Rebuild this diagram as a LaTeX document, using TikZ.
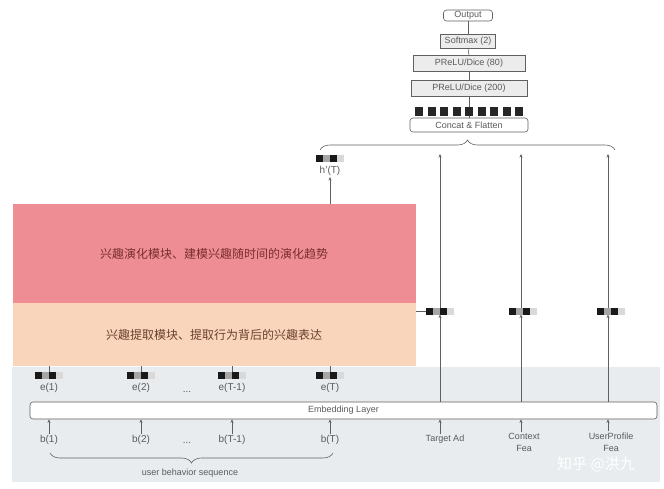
\documentclass[tikz,border=0pt]{standalone}
\usepackage{fontspec}
\setmainfont{Liberation Sans}
\newfontfamily\cjk{Noto Sans CJK SC}
\usetikzlibrary{arrows.meta, positioning, decorations.pathreplacing}
\definecolor{evoPink}{HTML}{EE8D94}
\definecolor{extPeach}{HTML}{F9D5BB}
\definecolor{panelGray}{HTML}{E8ECEF}
\definecolor{lineGray}{HTML}{606060}
\definecolor{txtGray}{HTML}{5A5A5A}
\definecolor{cjkRed}{HTML}{7A2E2E}
\definecolor{cjkBrown}{HTML}{6B3F2E}
\def\topY{154}   % upper end of the feature arrows
\def\embY{311}   % row of the feature embeddings
\def\cellW{7pt}

\begin{document}
\begin{tikzpicture}[
    x=1pt, y=-1pt,
    line width=0.6pt, draw=lineGray,
    >={Stealth[length=3.5pt,width=3pt]},
    every node/.style={text=txtGray, font=\fontsize{9}{11}\selectfont},
    lbl/.style={font=\fontsize{10}{12}\selectfont, inner sep=1pt},
    lblsm/.style={font=\fontsize{9}{12}\selectfont, inner sep=1pt, align=center},
    layerbox/.style={draw=lineGray, fill=gray!15, minimum height=15pt, inner sep=0pt},
    roundbox/.style={layerbox, fill=white, rounded corners=3pt},
    module/.style={minimum width=403pt, inner sep=0pt, font=\cjk\fontsize{12}{14}\selectfont},
    sq/.style={fill=black!85, minimum width=8pt, minimum height=9pt, inner sep=0pt},
    emb/.style={minimum width=28pt, minimum height=7pt, inner sep=0pt, outer sep=0pt,
        path picture={
            \foreach \c [count=\k from 0] in {black!90, black!35, black!90, black!15}
                \fill[\c] ([xshift=\k*\cellW]path picture bounding box.south west)
                    rectangle +(\cellW,7pt);
        }},
    brace/.style={decorate, decoration={brace, amplitude=10pt}}
]
\useasboundingbox (0,0) rectangle (664,488);

% background panel and the two modules
\fill[panelGray] (12,367) rectangle (660,482);
\node[module, fill=evoPink, minimum height=99pt, text=cjkRed] (evo) at (214,253.5)
    {兴趣演化模块、建模兴趣随时间的演化趋势};
\node[module, fill=extPeach, minimum height=63pt, text=cjkBrown] (ext) at (214,334.5)
    {兴趣提取模块、提取行为背后的兴趣表达};

% embedding layer
\node[roundbox, minimum width=627pt, minimum height=17pt] (embed) at (343.5,410.5) {Embedding Layer};

% behaviour sequence
\foreach \n/\x/\t in {1/49/1, 2/141/2, 3/232/T-1, 4/330/T}{
    \node[emb] (e\n) at (\x,375) {};
    \node[lbl] (el\n) at (\x,388) {e(\t)};
    \node[lbl] (b\n) at (\x,440) {b(\t)};
    \draw (e\n.north) -- (e\n |- ext.south);
    \draw[->] (b\n.north) -- (b\n |- embed.south);
}
\node[lbl] (edots) at (187,392) {...};
\node[lbl] (bdots) at (187,443) {...};
\coordinate (seqR) at (333,453);
\coordinate (seqL) at (50,453);
\draw[brace] (seqR) -- (seqL);
\node (seq) at (190,473) {user behavior sequence};

% other features
\node[lblsm] (ad) at (445,439) {Target Ad};
\node[lblsm] (ctx) at (524,442) {Context\\Fea};
\node[lblsm] (up) at (611,442) {UserProfile\\Fea};
\coordinate (topAd) at (440,\topY);
\coordinate (topCtx) at (521,\topY);
\coordinate (topUp) at (608,\topY);
\node[emb] (vad) at (440,\embY) {};
\node[emb] (vctx) at (523,\embY) {};
\node[emb] (vup) at (611,\embY) {};
\foreach \f/\v/\t in {ad/vad/topAd, ctx/vctx/topCtx, up/vup/topUp}{
    \draw[->] (\t |- \f.north) -- (\t |- embed.south);
    \draw[->] (\t |- embed.north) -- (\t |- \v.south);
    \draw[->] (\t |- \v.north) -- (\t);
}
\draw (ext.north east |- vad) -- (vad.west);

% interest state
\node[emb] (hT) at (330,158) {};
\node[lbl] (hTl) at (330,171) {h'(T)};
\draw[->] (evo.north -| hT) -- (hTl.south);

% MLP part
\coordinate (catL) at (320,150);
\coordinate (catR) at (615,150);
\draw[brace] (catL) -- (catR);
\node[roundbox, minimum width=118pt, minimum height=14pt] (concat) at (469,125) {Concat \& Flatten};
\node[layerbox, minimum width=116pt, minimum height=16pt] (h200) at (469,88.5) {PReLU/Dice (200)};
\node[layerbox, minimum width=112pt, minimum height=16pt] (h80) at (469,63.5) {PReLU/Dice (80)};
\node[layerbox, minimum width=55pt, minimum height=14pt] (soft) at (468,41) {Softmax (2)};
\node[roundbox, minimum width=49pt, minimum height=11pt] (out) at (468,15.5) {Output};
\draw (concat.north) -- (h200.south);
\draw (h200.north) -- (h80.south);
\draw (h80.north) -- (soft.south);
\draw (soft.north) -- (out.south);
\foreach \i in {0,...,8}
    \node[sq] (sq\i) at ({419+12.5*\i},111) {};

% watermark
\node[text=white, font=\cjk\fontsize{15}{17}\selectfont] (mark) at (596,464) {知乎 @洪九};
\end{tikzpicture}
\end{document}
